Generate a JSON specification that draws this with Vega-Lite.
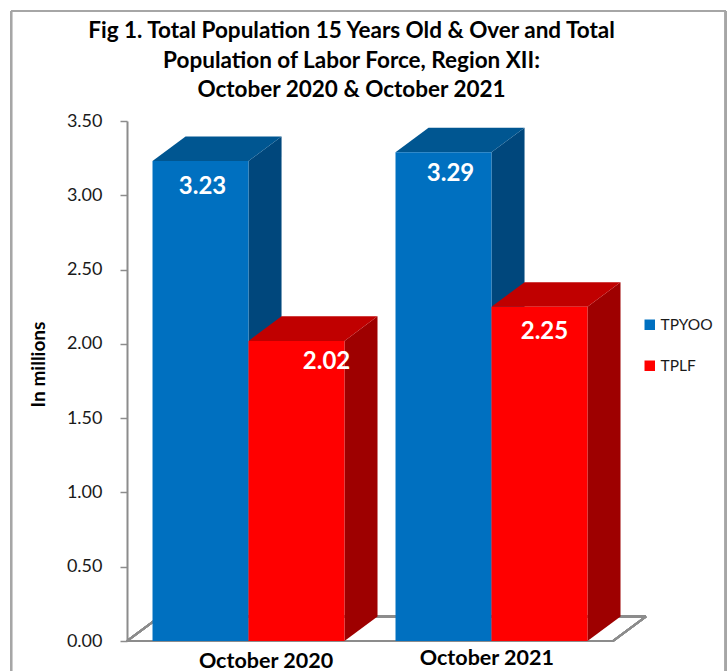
{"$schema":"https://vega.github.io/schema/vega-lite/v6.json","width":520,"height":520,"autosize":{"type":"none"},"padding":{"left":127,"top":121,"right":81,"bottom":30},"background":"white","config":{"view":{"stroke":null},"font":"Lato"},"data":{"values":[{"period":"October 2020","series":"TPYOO","value":3.23},{"period":"October 2020","series":"TPLF","value":2.02},{"period":"October 2021","series":"TPYOO","value":3.29},{"period":"October 2021","series":"TPLF","value":2.25}]},"transform":[{"calculate":"indexof(['October 2020','October 2021'],datum.period)+0.5","as":"center"},{"calculate":"datum.center-(datum.series=='TPYOO'?0.395:0)","as":"left"},{"calculate":"datum.left+0.395","as":"right"},{"calculate":"[0,1]","as":"t"},{"flatten":["t"]},{"calculate":"datum.left+datum.t*0.136","as":"topL"},{"calculate":"datum.right+datum.t*0.136","as":"topR"},{"calculate":"datum.value+datum.t*0.165","as":"upper"},{"calculate":"datum.t*0.165","as":"lower"}],"layer":[{"mark":{"type":"rule","color":"#a6a6a6","strokeWidth":2},"encoding":{"x":{"datum":-0.477,"type":"quantitative","scale":{"domain":[0,2.14],"nice":false,"zero":false},"axis":null},"y":{"datum":-0.25,"type":"quantitative","scale":{"domain":[0,3.5],"nice":false}},"y2":{"datum":4.24}}},{"mark":{"type":"rule","color":"#a6a6a6","strokeWidth":2},"encoding":{"x":{"datum":-0.477,"type":"quantitative","scale":{"domain":[0,2.14],"nice":false,"zero":false}},"x2":{"datum":2.464},"y":{"datum":4.24,"type":"quantitative","scale":{"domain":[0,3.5],"nice":false}}}},{"mark":{"type":"rule","color":"#a6a6a6","strokeWidth":2},"encoding":{"x":{"datum":2.464,"type":"quantitative","scale":{"domain":[0,2.14],"nice":false,"zero":false}},"y":{"datum":-0.25,"type":"quantitative","scale":{"domain":[0,3.5],"nice":false}},"y2":{"datum":4.24}}},{"mark":{"type":"rule","color":"#8c8c8c","strokeWidth":2},"encoding":{"x":{"datum":0,"type":"quantitative","scale":{"domain":[0,2.14],"nice":false,"zero":false}},"x2":{"datum":2},"y":{"datum":0,"type":"quantitative","scale":{"domain":[0,3.5],"nice":false}}}},{"mark":{"type":"rule","color":"#8c8c8c","strokeWidth":2},"encoding":{"x":{"datum":0.136,"type":"quantitative","scale":{"domain":[0,2.14],"nice":false,"zero":false}},"x2":{"datum":2.136},"y":{"datum":0.165,"type":"quantitative","scale":{"domain":[0,3.5],"nice":false}}}},{"mark":{"type":"rule","color":"#8c8c8c","strokeWidth":2},"encoding":{"x":{"datum":0,"type":"quantitative","scale":{"domain":[0,2.14],"nice":false,"zero":false}},"x2":{"datum":0.136},"y":{"datum":0,"type":"quantitative","scale":{"domain":[0,3.5],"nice":false}},"y2":{"datum":0.165}}},{"mark":{"type":"rule","color":"#8c8c8c","strokeWidth":2},"encoding":{"x":{"datum":2,"type":"quantitative","scale":{"domain":[0,2.14],"nice":false,"zero":false}},"x2":{"datum":2.136},"y":{"datum":0,"type":"quantitative","scale":{"domain":[0,3.5],"nice":false}},"y2":{"datum":0.165}}},{"transform":[{"filter":"datum.series=='TPYOO'"}],"mark":{"type":"area","color":"#00477c","orient":"vertical"},"encoding":{"x":{"field":"topR","type":"quantitative","scale":{"domain":[0,2.14],"nice":false,"zero":false}},"y":{"field":"upper","type":"quantitative","scale":{"domain":[0,3.5],"nice":false},"stack":null},"y2":{"field":"lower"},"detail":{"field":"period"}}},{"transform":[{"filter":"datum.series=='TPYOO'"}],"mark":{"type":"area","color":"#005691","orient":"horizontal"},"encoding":{"y":{"field":"upper","type":"quantitative","scale":{"domain":[0,3.5],"nice":false}},"x":{"field":"topL","type":"quantitative","scale":{"domain":[0,2.14],"nice":false,"zero":false},"stack":null},"x2":{"field":"topR"},"detail":{"field":"period"}}},{"transform":[{"filter":"datum.series=='TPLF'"}],"mark":{"type":"area","color":"#9e0000","orient":"vertical"},"encoding":{"x":{"field":"topR","type":"quantitative","scale":{"domain":[0,2.14],"nice":false,"zero":false}},"y":{"field":"upper","type":"quantitative","scale":{"domain":[0,3.5],"nice":false},"stack":null},"y2":{"field":"lower"},"detail":{"field":"period"}}},{"transform":[{"filter":"datum.series=='TPLF'"}],"mark":{"type":"area","color":"#c00000","orient":"horizontal"},"encoding":{"y":{"field":"upper","type":"quantitative","scale":{"domain":[0,3.5],"nice":false}},"x":{"field":"topL","type":"quantitative","scale":{"domain":[0,2.14],"nice":false,"zero":false},"stack":null},"x2":{"field":"topR"},"detail":{"field":"period"}}},{"transform":[{"filter":"datum.t==0"}],"mark":{"type":"bar"},"encoding":{"x":{"field":"left","type":"quantitative","scale":{"domain":[0,2.14],"nice":false,"zero":false}},"x2":{"field":"right"},"y":{"field":"value","type":"quantitative","stack":null,"scale":{"domain":[0,3.5],"nice":false},"axis":{"title":"In millions","titleFont":"Lato","titleFontWeight":"bold","titleFontSize":19,"titleColor":"#000000","titleX":-79,"titleY":243,"values":[0,0.5,1,1.5,2,2.5,3,3.5],"format":".2f","labelFont":"Lato","labelFontSize":18,"labelColor":"#1a1a1a","labelPadding":18,"domainColor":"#8c8c8c","domainWidth":2,"tickColor":"#8c8c8c","tickWidth":1.5,"tickSize":7,"grid":false}},"y2":{"datum":0},"color":{"field":"series","type":"nominal","scale":{"domain":["TPYOO","TPLF"],"range":["#0070c0","#ff0000"]},"legend":{"title":null,"orient":"none","legendX":515,"legendY":196,"symbolType":"square","symbolSize":110,"symbolStrokeWidth":0,"labelFont":"Lato","labelFontSize":15.5,"labelColor":"#1a1a1a","labelOffset":3,"rowPadding":24,"padding":0}}}},{"transform":[{"filter":"datum.t==0 && datum.value==3.23"}],"mark":{"type":"text","color":"white","font":"Lato","fontWeight":"bold","fontSize":24,"baseline":"middle","dx":50,"dy":26},"encoding":{"x":{"field":"left","type":"quantitative","scale":{"domain":[0,2.14],"nice":false,"zero":false}},"y":{"field":"value","type":"quantitative","scale":{"domain":[0,3.5],"nice":false}},"text":{"field":"value","type":"quantitative","format":".2f"}}},{"transform":[{"filter":"datum.t==0 && datum.value==3.29"}],"mark":{"type":"text","color":"white","font":"Lato","fontWeight":"bold","fontSize":24,"baseline":"middle","dx":55,"dy":22},"encoding":{"x":{"field":"left","type":"quantitative","scale":{"domain":[0,2.14],"nice":false,"zero":false}},"y":{"field":"value","type":"quantitative","scale":{"domain":[0,3.5],"nice":false}},"text":{"field":"value","type":"quantitative","format":".2f"}}},{"transform":[{"filter":"datum.t==0 && datum.value==2.02"}],"mark":{"type":"text","color":"white","font":"Lato","fontWeight":"bold","fontSize":24,"baseline":"middle","dx":78,"dy":21},"encoding":{"x":{"field":"left","type":"quantitative","scale":{"domain":[0,2.14],"nice":false,"zero":false}},"y":{"field":"value","type":"quantitative","scale":{"domain":[0,3.5],"nice":false}},"text":{"field":"value","type":"quantitative","format":".2f"}}},{"transform":[{"filter":"datum.t==0 && datum.value==2.25"}],"mark":{"type":"text","color":"white","font":"Lato","fontWeight":"bold","fontSize":24,"baseline":"middle","dx":53,"dy":25},"encoding":{"x":{"field":"left","type":"quantitative","scale":{"domain":[0,2.14],"nice":false,"zero":false}},"y":{"field":"value","type":"quantitative","scale":{"domain":[0,3.5],"nice":false}},"text":{"field":"value","type":"quantitative","format":".2f"}}},{"transform":[{"filter":"datum.t==0 && datum.series=='TPYOO' && datum.period=='October 2020'"}],"mark":{"type":"text","color":"#000000","font":"Lato","fontWeight":"bold","fontSize":21.5,"baseline":"middle"},"encoding":{"x":{"datum":0.572,"type":"quantitative","scale":{"domain":[0,2.14],"nice":false,"zero":false}},"y":{"datum":-0.141,"type":"quantitative","scale":{"domain":[0,3.5],"nice":false}},"text":{"field":"period"}}},{"transform":[{"filter":"datum.t==0 && datum.series=='TPYOO' && datum.period=='October 2021'"}],"mark":{"type":"text","color":"#000000","font":"Lato","fontWeight":"bold","fontSize":21.5,"baseline":"middle"},"encoding":{"x":{"datum":1.481,"type":"quantitative","scale":{"domain":[0,2.14],"nice":false,"zero":false}},"y":{"datum":-0.124,"type":"quantitative","scale":{"domain":[0,3.5],"nice":false}},"text":{"field":"period"}}},{"transform":[{"filter":"datum.t==0 && datum.value==3.23"}],"mark":{"type":"text","color":"#000000","font":"Lato","fontWeight":"bold","fontSize":22.5,"lineHeight":29.5,"baseline":"alphabetic","align":"center"},"encoding":{"x":{"datum":0.924,"type":"quantitative","scale":{"domain":[0,2.14],"nice":false,"zero":false}},"y":{"datum":4.058,"type":"quantitative","scale":{"domain":[0,3.5],"nice":false}},"text":{"value":["Fig 1. Total Population 15 Years Old & Over and Total","Population of Labor Force, Region XII:","October 2020 & October 2021"]}}}]}
